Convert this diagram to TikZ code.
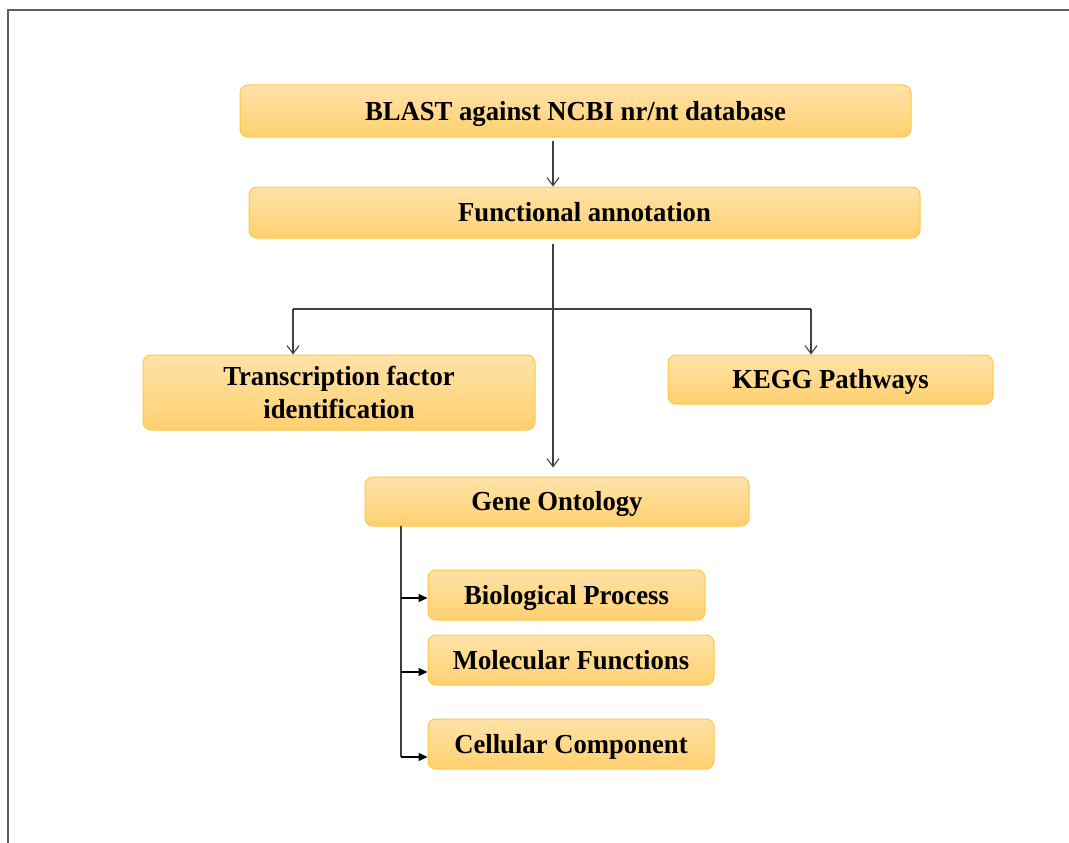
\documentclass[tikz,border=0pt]{standalone}
\usepackage{fontspec}
\setmainfont{Liberation Serif}[FakeStretch=0.97]
\usetikzlibrary{arrows.meta,calc}
\definecolor{boxtop}{HTML}{FFE2A8}
\definecolor{boxbot}{HTML}{FFD070}
\definecolor{boxline}{HTML}{FFC83C}
\definecolor{conn}{HTML}{404040}
\definecolor{frame}{HTML}{5E5E5E}
\begin{document}
\begin{tikzpicture}[x=1pt,y=-1pt,
  box/.style={draw=boxline, line width=1pt, rounded corners=8pt,
    top color=boxtop, bottom color=boxbot, inner sep=0pt,
    font=\fontsize{27.5}{33}\selectfont\bfseries, align=center, text=black,
    text height=18.2pt, text depth=0pt},
  arr/.style={draw=conn, line width=1.1pt, -{Straight Barb[length=8pt,width=12pt]}},
  line/.style={draw=conn, line width=1.1pt},
  arrs/.style={draw=black, line width=1.1pt, -{Triangle[length=9pt,width=8pt]}}
]
\useasboundingbox (0,0) rectangle (1069,843);
\draw[frame, line width=2.4pt] (8,843) -- (8,10) -- (1069,10);

\node[box, minimum width=671pt, minimum height=52pt] (BL) at (575.5,111) {BLAST against NCBI nr/nt database};
\node[box, minimum width=671pt, minimum height=51pt] (FA) at (584.5,212.5) {Functional annotation};
\node[box, minimum width=392pt, minimum height=75pt, text height={}, text depth={}] (TF) at (339,392.5) {Transcription factor\\identification};
\node[box, minimum width=325pt, minimum height=49pt] (KG) at (830.5,379.5) {KEGG Pathways};
\node[box, minimum width=384pt, minimum height=49pt] (GO) at (557,501.5) {Gene Ontology};
\node[box, minimum width=277pt, minimum height=50pt] (BP) at (566.5,595) {Biological Process};
\node[box, minimum width=286pt, minimum height=50pt] (MF) at (571,660) {Molecular Functions};
\node[box, minimum width=286pt, minimum height=50pt] (CC) at (571,744) {Cellular Component};

\coordinate (j) at (553,309);
\coordinate (tl) at (293,309);
\coordinate (tr) at (811,309);
\coordinate (g) at (401,526);

\draw[arr, shorten <=3pt] (BL.south -| j) -- (FA.north -| j);
\draw[arr, shorten <=5pt, shorten >=9pt] (FA.south -| j) -- (GO.north -| j);
\draw[line] (tl) -- (tr);
\draw[arr] (tl) -- (TF.north -| tl);
\draw[arr] (tr) -- (KG.north -| tr);

\draw[line] (g) -- ($(CC.west -| g)+(0,13)$);
\draw[arrs] ($(BP.west -| g)+(0,3)$) -- ($(BP.west)+(0,3)$);
\draw[arrs] ($(MF.west -| g)+(0,12)$) -- ($(MF.west)+(0,12)$);
\draw[arrs] ($(CC.west -| g)+(0,13)$) -- ($(CC.west)+(0,13)$);
\end{tikzpicture}
\end{document}
